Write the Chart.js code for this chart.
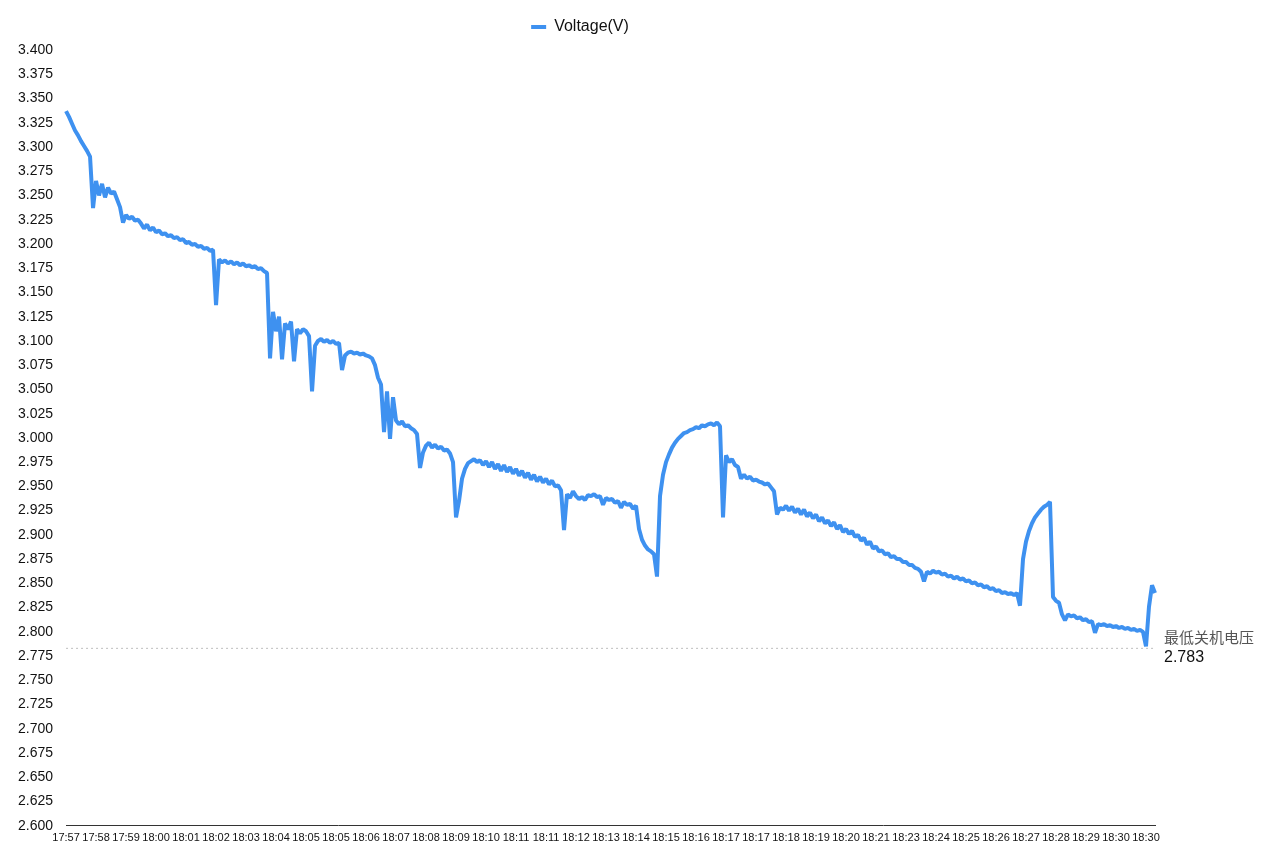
<!DOCTYPE html>
<html>
<head>
<meta charset="utf-8">
<script src="https://cdn.jsdelivr.net/npm/chart.js@4/dist/chart.umd.min.js"></script>
<style>
  html, body { margin: 0; padding: 0; background: #fff; }
  #wrap { width: 1280px; height: 855px; position: relative; }
</style>
</head>
<body>
<div id="wrap"><canvas id="voltageChart"></canvas></div>
<script>
// one tick label every STEP samples
const STEP = 10;
const tickLabels = [
    "17:57","17:58","17:59","18:00","18:01","18:02","18:03","18:04","18:05","18:05",
    "18:06","18:07","18:08","18:09","18:10","18:11","18:11","18:12","18:13","18:14",
    "18:15","18:16","18:17","18:17","18:18","18:19","18:20","18:21","18:23","18:24",
    "18:25","18:26","18:27","18:28","18:29","18:30","18:30"
];

// Voltage samples (V)
const voltage = [
    3.337, 3.331, 3.324, 3.317, 3.312, 3.306, 3.301, 3.296, 3.290, 3.237,
    3.265, 3.250, 3.262, 3.248, 3.258, 3.252, 3.254, 3.246, 3.238, 3.222,
    3.230, 3.226, 3.228, 3.224, 3.225, 3.221, 3.216, 3.220, 3.214, 3.217,
    3.212, 3.214, 3.210, 3.211, 3.208, 3.209, 3.206, 3.207, 3.204, 3.205,
    3.201, 3.202, 3.199, 3.200, 3.197, 3.198, 3.195, 3.196, 3.193, 3.194,
    3.137, 3.184, 3.181, 3.183, 3.180, 3.182, 3.179, 3.181, 3.178, 3.180,
    3.177, 3.178, 3.176, 3.177, 3.174, 3.175, 3.172, 3.170, 3.082, 3.130,
    3.110, 3.125, 3.081, 3.118, 3.112, 3.120, 3.079, 3.112, 3.108, 3.112,
    3.110, 3.105, 3.048, 3.095, 3.100, 3.102, 3.099, 3.101, 3.098, 3.100,
    3.097, 3.098, 3.070, 3.085, 3.088, 3.089, 3.087, 3.088, 3.086, 3.087,
    3.085, 3.084, 3.082, 3.075, 3.062, 3.055, 3.006, 3.048, 2.999, 3.042,
    3.018, 3.014, 3.017, 3.012, 3.013, 3.010, 3.008, 3.004, 2.969, 2.985,
    2.992, 2.995, 2.990, 2.993, 2.989, 2.991, 2.987, 2.988, 2.984, 2.975,
    2.918, 2.935, 2.958, 2.968, 2.974, 2.976, 2.978, 2.975, 2.977, 2.972,
    2.976, 2.970, 2.975, 2.968, 2.973, 2.966, 2.972, 2.965, 2.970, 2.963,
    2.968, 2.961, 2.966, 2.959, 2.964, 2.957, 2.962, 2.955, 2.960, 2.954,
    2.958, 2.952, 2.956, 2.950, 2.951, 2.946, 2.905, 2.942, 2.938, 2.945,
    2.940, 2.937, 2.939, 2.936, 2.941, 2.940, 2.942, 2.939, 2.940, 2.931,
    2.938, 2.936, 2.937, 2.933, 2.935, 2.928, 2.934, 2.931, 2.932, 2.927,
    2.930, 2.906, 2.895, 2.889, 2.885, 2.883, 2.880, 2.857, 2.940, 2.962,
    2.975, 2.983, 2.990, 2.995, 2.999, 3.002, 3.005, 3.006, 3.008, 3.009,
    3.011, 3.010, 3.013, 3.012, 3.014, 3.015, 3.013, 3.016, 3.012, 2.918,
    2.982, 2.975, 2.978, 2.972, 2.970, 2.958, 2.962, 2.958, 2.960, 2.956,
    2.957, 2.955, 2.954, 2.952, 2.953, 2.949, 2.945, 2.921, 2.928, 2.926,
    2.930, 2.925, 2.929, 2.923, 2.927, 2.921, 2.926, 2.919, 2.923, 2.917,
    2.921, 2.914, 2.918, 2.912, 2.915, 2.909, 2.913, 2.906, 2.910, 2.903,
    2.906, 2.901, 2.904, 2.898, 2.900, 2.894, 2.897, 2.890, 2.893, 2.886,
    2.888, 2.883, 2.884, 2.880, 2.881, 2.877, 2.878, 2.875, 2.875, 2.872,
    2.872, 2.869, 2.869, 2.866, 2.865, 2.862, 2.852, 2.862, 2.860, 2.863,
    2.861, 2.862, 2.859, 2.860, 2.857, 2.858, 2.855, 2.857, 2.854, 2.855,
    2.852, 2.853, 2.850, 2.851, 2.848, 2.849, 2.846, 2.847, 2.844, 2.845,
    2.842, 2.843, 2.840, 2.841, 2.839, 2.840, 2.838, 2.840, 2.827, 2.875,
    2.893, 2.904, 2.912, 2.918, 2.922, 2.926, 2.929, 2.931, 2.934, 2.836,
    2.832, 2.830, 2.818, 2.812, 2.818, 2.816, 2.817, 2.814, 2.815, 2.812,
    2.813, 2.810, 2.811, 2.799, 2.808, 2.807, 2.808, 2.806, 2.807, 2.805,
    2.806, 2.804, 2.805, 2.803, 2.804, 2.802, 2.803, 2.801, 2.802, 2.800,
    2.785, 2.826, 2.848, 2.840
];

const cutoffVoltage = 2.783;
const cutoffLabel = "最低关机电压";

const categories = voltage.map((v, i) => (i % STEP === 0 ? tickLabels[i / STEP] : ""));

// a little extra room under the legend
const legendGap = {
    id: "legendGap",
    beforeInit(chart) {
        const fit = chart.legend.fit;
        chart.legend.fit = function () {
            fit.call(this);
            this.height += 5;
        };
    }
};

// dotted cutoff line + label to the right of the plot
const cutoffPlugin = {
    id: "cutoff",
    afterDatasetsDraw(chart) {
        const {ctx, chartArea, scales} = chart;
        const y = scales.y.getPixelForValue(cutoffVoltage);
        ctx.save();
        ctx.strokeStyle = "#bdbdbd";
        ctx.lineWidth = 1;
        ctx.setLineDash([2, 3]);
        ctx.beginPath();
        ctx.moveTo(chartArea.left, y);
        ctx.lineTo(chartArea.right, y);
        ctx.stroke();
        ctx.setLineDash([]);
        ctx.textAlign = "left";
        ctx.textBaseline = "middle";
        ctx.fillStyle = "#555";
        ctx.font = "15px 'Noto Sans CJK SC', sans-serif";
        ctx.fillText(cutoffLabel, chartArea.right + 9, y - 11);
        ctx.fillStyle = "#111";
        ctx.font = "16px 'Liberation Sans', Arial, sans-serif";
        ctx.fillText(cutoffVoltage.toFixed(3), chartArea.right + 9, y + 9);
        ctx.restore();
    }
};

Chart.defaults.font.family = "'Liberation Sans', Arial, Helvetica, sans-serif";
Chart.defaults.color = "#111";

new Chart(document.getElementById("voltageChart"), {
    type: "line",
    data: {
        labels: categories,
        datasets: [
            {
                label: "Voltage(V)",
                data: voltage,
                borderColor: "#3e91f0",
                backgroundColor: "#3e91f0",
                borderWidth: 4,
                borderJoinStyle: "bevel",
                pointRadius: 0,
                tension: 0
            }
        ]
    },
    options: {
        responsive: true,
        maintainAspectRatio: false,
        animation: false,
        layout: {
            padding: { left: 5, right: 125, top: 0, bottom: 4 }
        },
        plugins: {
            legend: {
                position: "top",
                labels: {
                    usePointStyle: true,
                    pointStyle: "line",
                    pointStyleWidth: 15,
                    padding: 19,
                    font: { size: 16 }
                }
            },
            tooltip: { enabled: false }
        },
        scales: {
            x: {
                grid: { display: false, drawTicks: false },
                border: { display: true, color: "#333", width: 1 },
                ticks: {
                    autoSkip: false,
                    maxRotation: 0,
                    minRotation: 0,
                    padding: 6,
                    font: { size: 11 },
                    callback: (v, i) => (i % STEP === 0 ? tickLabels[i / STEP] : null)
                }
            },
            y: {
                min: 2.6,
                max: 3.4,
                grid: { display: false, drawTicks: false },
                border: { display: false },
                ticks: {
                    stepSize: 0.025,
                    padding: 13,
                    font: { size: 14 },
                    callback: (v) => Number(v).toFixed(3)
                }
            }
        }
    },
    plugins: [legendGap, cutoffPlugin]
});
</script>
</body>
</html>
